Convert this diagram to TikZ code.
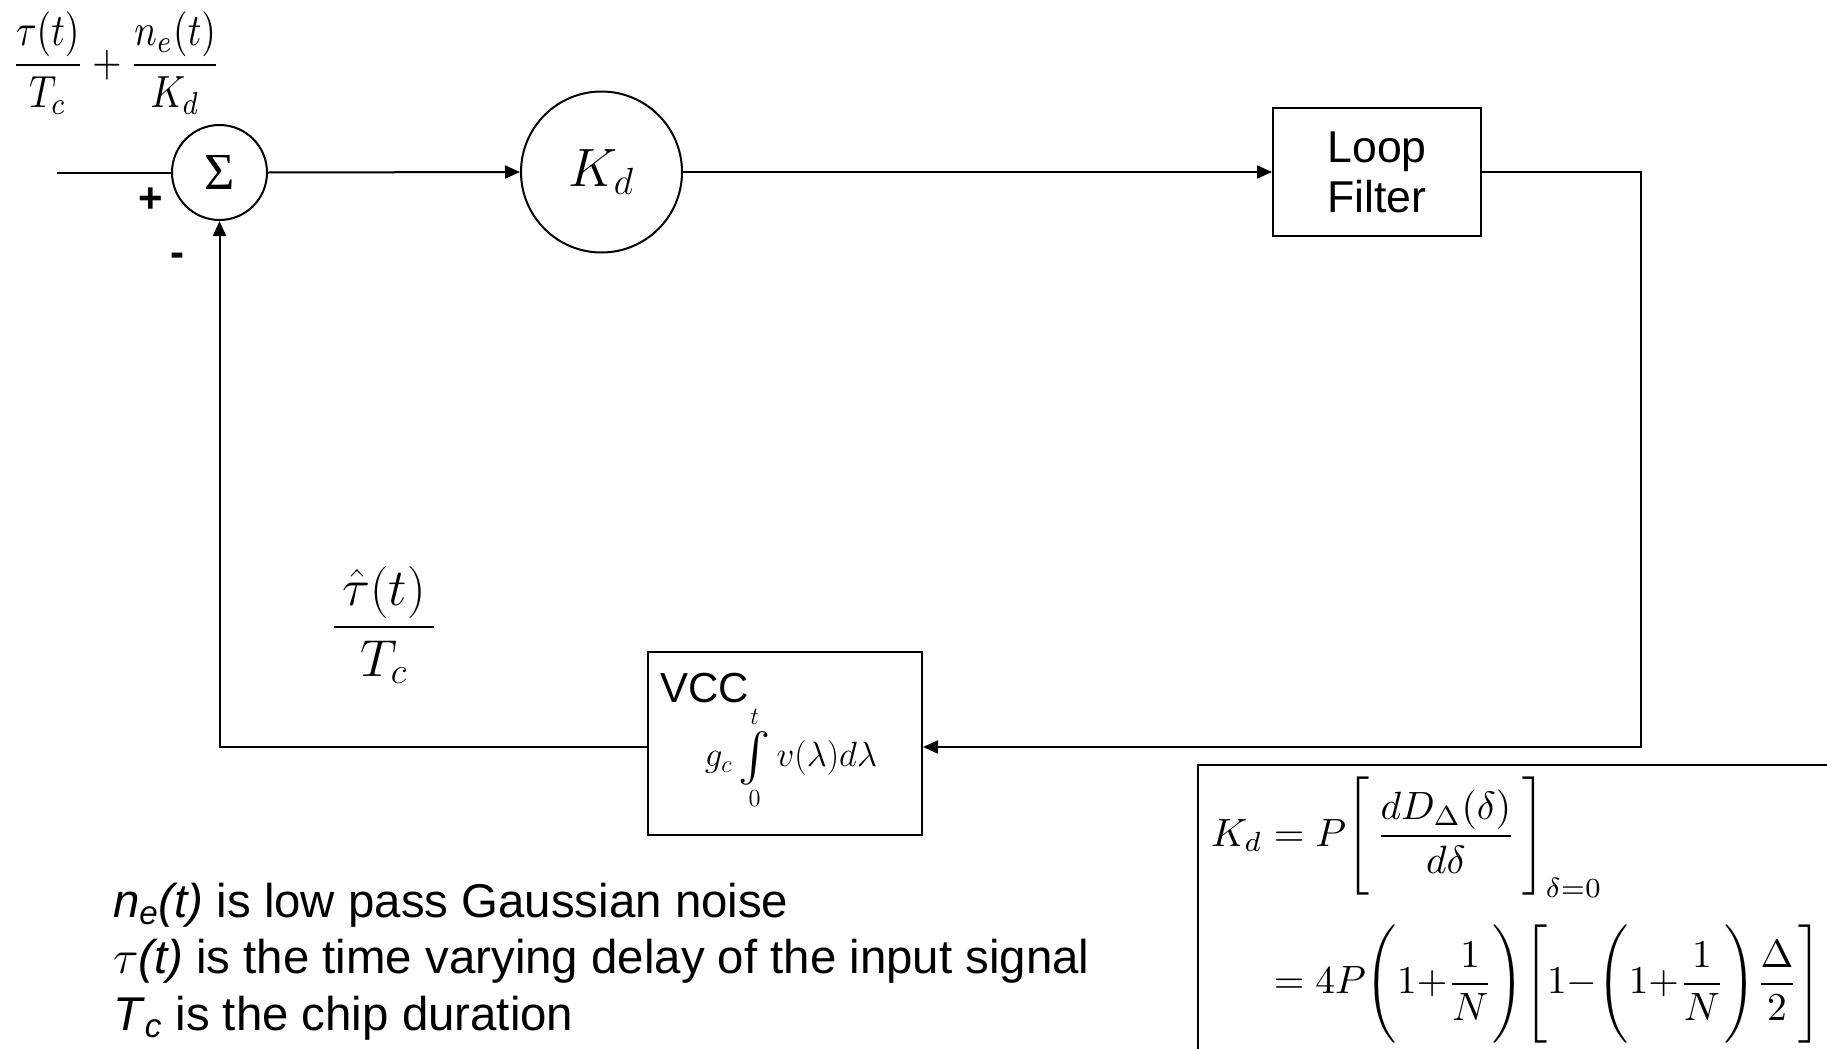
\RequirePackage{fix-cm}
\documentclass[tikz,border=0pt]{standalone}
\usepackage{amsmath}
\usepackage{graphicx}
\usepackage{fontspec}
\setmainfont{Liberation Sans}
\newfontfamily\serifgr{Liberation Serif}
\usetikzlibrary{arrows.meta}
\begin{document}
\begin{tikzpicture}[x=0.5pt,y=-0.5pt, line width=1pt,
  >={Triangle[length=7.5pt,width=6.5pt]},
  blk/.style={draw, rectangle, inner sep=0pt, line width=1pt},
  circ/.style={draw, circle, inner sep=0pt, line width=1pt},
  lbl/.style={inner sep=0pt},
  conn/.style={->, line width=1pt},
  notefont/.style={font=\fontsize{23.7}{28}\selectfont}]
\useasboundingbox (0,0) rectangle (1827,1049);

% blocks
\node[circ, minimum size=47.5pt] (sum) at (219.5,172.5) {\serifgr\fontsize{26}{28}\selectfont Σ};
\node[circ, minimum size=80.5pt] (kd) at (601.5,172) {\fontsize{27}{32}\selectfont$K_d$};
\node[blk, minimum width=104pt, minimum height=64pt, align=center,
      font=\fontsize{22.3}{25}\selectfont] (lf) at (1377,172) {Loop\\Filter};
\node[blk, minimum width=137pt, minimum height=91.5pt] (vcc) at (785,743.5) {};
\node[lbl, anchor=base west, font=\fontsize{21}{25}\selectfont] (vcclbl) at (659,702) {VCC};
\node[lbl] (integ) at (791,758) {\fontsize{17.5}{21}\selectfont
  $g_c\mathop{\vcenter{\hbox{\scalebox{1.4}{$\int$}}}}\limits_0^t v(\lambda)d\lambda$};

% signs
\node[lbl, font=\bfseries\fontsize{21}{25}\selectfont] (plus) at (151,200) {+};
\node[lbl, font=\bfseries\fontsize{21}{25}\selectfont] (minus) at (177,260) {-};

% input expression
\node[lbl] (infrac) at (116,63) {\resizebox*{104.5pt}{51pt}{$\displaystyle\frac{\tau(t)}{T_c}+\frac{n_e(t)}{K_d}$}};
% feedback expression
\node[lbl] (fbfrac) at (384,625) {\fontsize{26}{30}\selectfont$\dfrac{\,\hat{\tau}(t)\,}{T_c}$};

% coordinates
\coordinate (in) at (57,172.5);
\coordinate (fbrb) at (1641,747);

% connectors
\draw (in) -- (sum.west);
\draw[conn] (sum.east) -- (kd.west);
\draw[conn] (kd.east) -- (lf.west);
\draw[conn] (lf.east) -| (fbrb) -- (vcc.east |- fbrb);
\draw[conn] (vcc.west |- fbrb) -| (sum.south);

% K_d formula
\draw (1198,765) rectangle (1870,1090);
\node[lbl, anchor=north west] (kdform) at (1210,776) {\resizebox{305pt}{!}{$\begin{aligned}
K_d &= P\Biggl[\,\dfrac{dD_\Delta(\delta)}{d\delta}\,\Biggr]_{\delta=0}\\[3pt]
&= 4P\Biggl(1{+}\dfrac{1}{N}\Biggr)\Biggl[1{-}\Biggl(1{+}\dfrac{1}{N}\Biggr)\dfrac{\Delta}{2}\Biggr]
\end{aligned}$}};

% notes
\node[lbl, anchor=base west, notefont] (note1) at (112,917) {\textit{n}\textsubscript{\textit{e}}\textit{(t)} is low pass Gaussian noise};
\node[lbl, anchor=base west, notefont] (note2) at (112,973) {$\tau$\textit{(t)} is the time varying delay of the input signal};
\node[lbl, anchor=base west, notefont] (note3) at (112,1030) {\textit{T}\textsubscript{\textit{c}} is the chip duration};
\end{tikzpicture}
\end{document}
